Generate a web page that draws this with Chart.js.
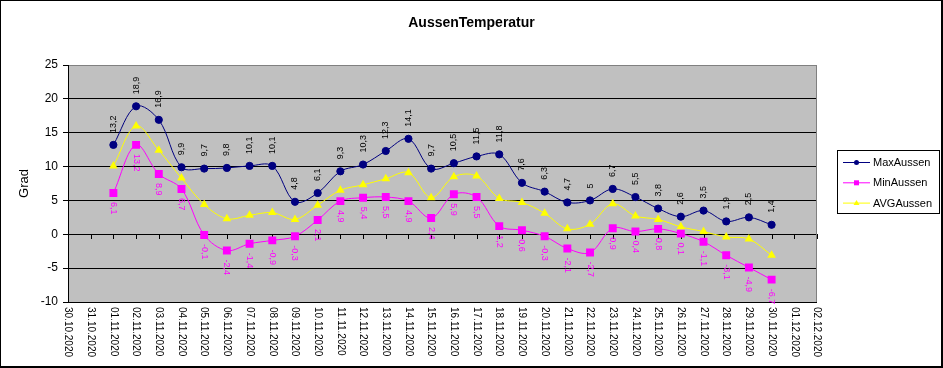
<!DOCTYPE html>
<html>
<head>
<meta charset="utf-8">
<title>AussenTemperatur</title>
<script src="https://cdn.jsdelivr.net/npm/chart.js@4/dist/chart.umd.min.js"></script>
<style>
    html, body { margin: 0; padding: 0; background: #fff; }
    #wrap { width: 943px; height: 368px; }
</style>
</head>
<body>
<div id="wrap"><canvas id="tempChart" width="943" height="368"></canvas></div>
<script>
// ---------------- Daten ----------------
const dayLabels = [
    "30.10.2020", "31.10.2020",
    "01.11.2020", "02.11.2020", "03.11.2020", "04.11.2020", "05.11.2020",
    "06.11.2020", "07.11.2020", "08.11.2020", "09.11.2020", "10.11.2020",
    "11.11.2020", "12.11.2020", "13.11.2020", "14.11.2020", "15.11.2020",
    "16.11.2020", "17.11.2020", "18.11.2020", "19.11.2020", "20.11.2020",
    "21.11.2020", "22.11.2020", "23.11.2020", "24.11.2020", "25.11.2020",
    "26.11.2020", "27.11.2020", "28.11.2020", "29.11.2020", "30.11.2020",
    "01.12.2020", "02.12.2020"
];

// Messwerte 01.11. - 30.11.
const maxAussen = [13.2, 18.9, 16.9, 9.9, 9.7, 9.8, 10.1, 10.1, 4.8, 6.1,
                   9.3, 10.3, 12.3, 14.1, 9.7, 10.5, 11.5, 11.8, 7.6, 6.3,
                   4.7, 5, 6.7, 5.5, 3.8, 2.6, 3.5, 1.9, 2.5, 1.4];
const minAussen = [6.1, 13.2, 8.9, 6.7, -0.1, -2.4, -1.4, -0.9, -0.3, 2.1,
                   4.9, 5.4, 5.5, 4.9, 2.4, 5.9, 5.5, 1.2, 0.6, -0.3,
                   -2.1, -2.7, 0.9, 0.4, 0.8, 0.1, -1.1, -3.1, -4.9, -6.7];
const avgAussen = [10.1, 16.0, 12.4, 8.3, 4.4, 2.3, 2.8, 3.2, 2.2, 4.3,
                   6.5, 7.3, 8.2, 9.1, 5.4, 8.5, 8.6, 5.3, 4.7, 3.1,
                   0.8, 1.5, 4.5, 2.7, 2.2, 1.1, 0.4, -0.4, -0.7, -3.1];

const yTicks = [-10, -5, 0, 5, 10, 15, 20, 25];

// 30.10. / 31.10. und 01.12. / 02.12. ohne Werte
function pad(values) {
    return [null, null, ...values, null, null];
}

const FONT = "'Liberation Sans', Arial, sans-serif";
Chart.defaults.font.family = FONT;
Chart.defaults.color = "#000";

// ---------------- Plugins ----------------
const plotBackground = {
    id: "plotBackground",
    beforeDraw(chart) {
        const { ctx, chartArea: a } = chart;
        ctx.save();
        ctx.fillStyle = "#c0c0c0";
        ctx.fillRect(a.left, a.top, a.right - a.left, a.bottom - a.top);
        ctx.restore();
    },
    beforeDatasetsDraw(chart) {
        const { ctx, chartArea: a } = chart;
        const xScale = chart.scales.x;
        const yScale = chart.scales.y;
        ctx.save();
        // rechter Rand
        ctx.strokeStyle = "#808080";
        ctx.lineWidth = 1;
        ctx.beginPath();
        ctx.moveTo(Math.round(a.right) - 0.5, a.top);
        ctx.lineTo(Math.round(a.right) - 0.5, a.bottom);
        ctx.stroke();
        // Teilstriche an der Nulllinie
        const y0 = Math.round(yScale.getPixelForValue(0));
        ctx.strokeStyle = "#000";
        ctx.beginPath();
        xScale.ticks.forEach((t, i) => {
            const x = Math.round(xScale.getPixelForTick(i)) + 0.5;
            ctx.moveTo(x, y0);
            ctx.lineTo(x, y0 + 5);
        });
        ctx.stroke();
        ctx.restore();
    }
};

const dateLabels = {
    id: "dateLabels",
    afterDraw(chart) {
        const { ctx } = chart;
        const xScale = chart.scales.x;
        ctx.save();
        ctx.font = "10px " + FONT;
        ctx.fillStyle = "#000";
        ctx.textAlign = "left";
        ctx.textBaseline = "middle";
        xScale.ticks.forEach((t, i) => {
            const x = xScale.getPixelForTick(i);
            ctx.save();
            ctx.translate(x, chart.chartArea.bottom + 5);
            ctx.rotate(Math.PI / 2);
            ctx.fillText(dayLabels[i], 0, 0);
            ctx.restore();
        });
        ctx.restore();
    }
};

const valueLabels = {
    id: "valueLabels",
    afterDatasetsDraw(chart) {
        const { ctx } = chart;
        ctx.save();
        ctx.font = "9px " + FONT;
        ctx.textAlign = "left";
        ctx.textBaseline = "middle";
        chart.data.datasets.forEach((ds, di) => {
            if (!ds.labelSide) return;
            const meta = chart.getDatasetMeta(di);
            meta.data.forEach((pt, i) => {
                const v = ds.data[i];
                if (v === null || v === undefined) return;
                const txt = String(v).replace(".", ",");
                ctx.save();
                ctx.translate(pt.x, pt.y);
                ctx.fillStyle = ds.labelColor;
                if (ds.labelSide === "above") {
                    ctx.rotate(-Math.PI / 2);
                    ctx.fillText(txt, 12, 0);
                } else {
                    ctx.rotate(Math.PI / 2);
                    ctx.fillText(txt, 9, 0);
                }
                ctx.restore();
            });
        });
        ctx.restore();
    }
};

function drawMarker(ctx, style, x, y, color) {
    ctx.fillStyle = color;
    ctx.beginPath();
    if (style === "circle") {
        ctx.arc(x, y, 2.5, 0, Math.PI * 2);
    } else if (style === "rect") {
        ctx.rect(x - 2.5, y - 2.5, 5, 5);
    } else {
        ctx.moveTo(x, y - 3);
        ctx.lineTo(x + 3, y + 2);
        ctx.lineTo(x - 3, y + 2);
        ctx.closePath();
    }
    ctx.fill();
}

const boxLegend = {
    id: "boxLegend",
    afterDraw(chart) {
        const { ctx } = chart;
        ctx.save();
        ctx.fillStyle = "#fff";
        ctx.fillRect(837, 150, 102, 63);
        ctx.strokeStyle = "#000";
        ctx.lineWidth = 1;
        ctx.strokeRect(837.5, 150.5, 102, 63);
        ctx.font = "11px " + FONT;
        ctx.textAlign = "left";
        ctx.textBaseline = "middle";
        chart.data.datasets.forEach((ds, i) => {
            const y = 162.5 + i * 20.3;
            ctx.strokeStyle = ds.borderColor;
            ctx.beginPath();
            ctx.moveTo(843, y);
            ctx.lineTo(870, y);
            ctx.stroke();
            drawMarker(ctx, ds.pointStyle, 856.5, y, ds.pointBackgroundColor);
            ctx.fillStyle = "#000";
            ctx.fillText(ds.label, 873, y + 0.5);
        });

        // Rahmen um das ganze Bild
        ctx.fillStyle = "#000";
        ctx.fillRect(0, 0, 943, 1);
        ctx.fillRect(0, 0, 1, 368);
        ctx.fillRect(941, 0, 2, 368);
        ctx.fillRect(0, 366, 943, 2);
        ctx.restore();
    }
};

// ---------------- Diagramm ----------------
const ctx = document.getElementById("tempChart").getContext("2d");

new Chart(ctx, {
    type: "line",
    data: {
        labels: dayLabels,
        datasets: [
            {
                label: "MaxAussen",
                data: pad(maxAussen),
                borderColor: "#000080",
                borderWidth: 1,
                pointStyle: "circle",
                pointRadius: 3.6,
                pointBackgroundColor: "#000080",
                pointBorderColor: "#000080",
                tension: 0.35,
                labelSide: "above",
                labelColor: "#000"
            },
            {
                label: "MinAussen",
                data: pad(minAussen),
                borderColor: "#ff00ff",
                borderWidth: 1,
                pointStyle: "rect",
                pointRadius: 5.6,
                pointBorderWidth: 0,
                pointBackgroundColor: "#ff00ff",
                pointBorderColor: "#ff00ff",
                tension: 0.35,
                labelSide: "below",
                labelColor: "#ff00ff"
            },
            {
                label: "AVGAussen",
                data: pad(avgAussen),
                borderColor: "#ffff00",
                borderWidth: 1,
                pointStyle: "triangle",
                pointRadius: 5,
                pointBorderWidth: 0,
                pointBackgroundColor: "#ffff00",
                pointBorderColor: "#ffff00",
                tension: 0.35
            }
        ]
    },
    options: {
        responsive: false,
        animation: false,
        events: [],
        layout: { padding: 0 },
        plugins: {
            legend: { display: false },
            tooltip: { enabled: false },
            title: {
                display: true,
                text: "AussenTemperatur",
                color: "#000",
                font: { size: 14, weight: "bold", lineHeight: 1 },
                padding: { top: 16, bottom: 35 }
            }
        },
        scales: {
            x: {
                type: "category",
                offset: false,
                grid: { display: false },
                border: { display: false },
                ticks: { display: false },
                afterFit(scale) { scale.height = 66; }
            },
            y: {
                min: yTicks[0],
                max: yTicks[yTicks.length - 1],
                afterBuildTicks(scale) {
                    scale.ticks = yTicks.map(v => ({ value: v }));
                },
                grid: {
                    color: c => (c.tick && c.tick.value === 25 ? "#808080" : "#000"),
                    lineWidth: 1,
                    tickLength: 5,
                    tickColor: "#000"
                },
                border: { display: true, color: "#000", width: 1 },
                ticks: { font: { size: 12 }, padding: 5, color: "#000" },
                title: {
                    display: true,
                    text: "Grad",
                    font: { size: 13 },
                    padding: { top: 17, bottom: 0 }
                },
                afterFit(scale) { scale.width = 68; }
            },
            // leere Achse rechts: Platz für die Legende
            legendSpace: {
                type: "linear",
                position: "right",
                grid: { display: false },
                border: { display: false },
                ticks: { display: false },
                afterFit(scale) { scale.width = 126; }
            }
        }
    },
    plugins: [plotBackground, valueLabels, dateLabels, boxLegend]
});
</script>
</body>
</html>
